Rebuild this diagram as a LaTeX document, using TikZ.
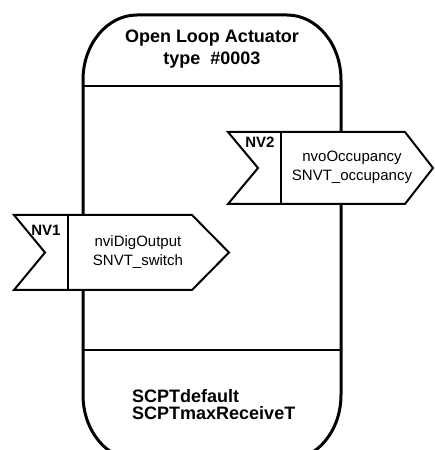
\documentclass[tikz,border=0pt]{standalone}
\usepackage{fontspec}
\setmainfont{Liberation Sans}
\begin{document}
\begin{tikzpicture}[x=1pt,y=1pt,
  outline/.style={draw=black,line width=3pt},
  port/.style={draw=black,fill=white,line width=2pt,line join=miter},
  title text/.style={font=\fontsize{18}{22}\selectfont\bfseries,align=center,inner sep=0pt},
  port text/.style={font=\fontsize{15}{18.5}\selectfont,align=center,inner sep=0pt},
  nv text/.style={font=\fontsize{15}{18}\selectfont\bfseries,inner sep=0pt}]%
  \useasboundingbox (0,0) rectangle (435,450);
  \clip (0,0) rectangle (435,450);
  \pgfmathsetmacro{\xl}{83}
  \pgfmathsetmacro{\xr}{341}
  % actuator outline
  \draw[outline] (\xl,55) -- (\xl,370)
    arc[start angle=180,end angle=90,x radius=54,y radius=65] -- (\xr-54,435)
    arc[start angle=90,end angle=0,x radius=54,y radius=65] -- (\xr,55)
    arc[start angle=0,end angle=-90,x radius=54,y radius=65] -- (\xl+54,-10)
    arc[start angle=270,end angle=180,x radius=54,y radius=65] -- cycle;
  \draw[draw=black,line width=2.5pt] (\xl,364) -- (\xr,364);
  \draw[draw=black,line width=2.5pt] (\xl,100) -- (\xr,100);
  \node[title text] (title) at (212,401) {Open Loop Actuator\\type\ \ \#0003};
  % NV2 output
  \draw[port] (228,318) -- (405,318) -- (433,282) -- (405,246) -- (228,246) -- (258,282) -- cycle;
  \draw[draw=black,line width=2pt] (281,318) -- (281,246);
  \node[nv text] (nv2) at (260,308) {NV2};
  \node[port text] (nvo) at (352,282.5) {nvoOccupancy\\SNVT\_occupancy};
  % NV1 input
  \draw[port] (14,235) -- (192,235) -- (229,197.5) -- (192,160) -- (14,160) -- (45,197.5) -- cycle;
  \draw[draw=black,line width=2pt] (68,235) -- (68,160);
  \node[nv text] (nv1) at (46,220) {NV1};
  \node[port text] (nvi) at (138,198) {nviDigOutput\\SNVT\_switch};
  % configuration properties
  \node[title text,align=left,anchor=west,font=\fontsize{18}{17}\selectfont\bfseries] (scpt) at (132,45) {SCPTdefault\\SCPTmaxReceiveT};
\end{tikzpicture}
\end{document}
